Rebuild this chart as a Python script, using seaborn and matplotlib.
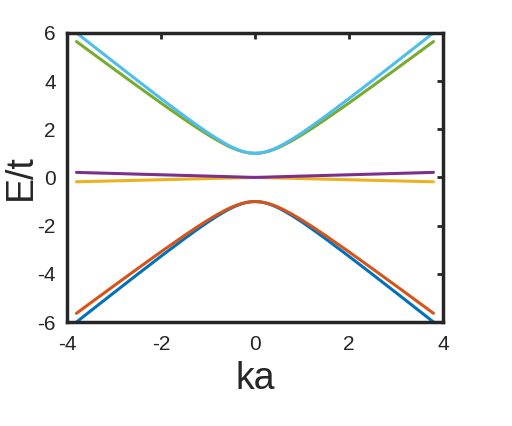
import matplotlib
matplotlib.use("Agg")
import matplotlib.pyplot as plt
import pandas as pd
import seaborn as sns

# ka sample points
ka_half = [0.0, 0.1, 0.2, 0.3, 0.4, 0.5, 0.6, 0.8, 1.0, 1.2, 1.5, 2.0, 2.5, 3.0, 3.5, 3.8]

# energies E/t for ka >= 0, each band is symmetric in ka
cyan_half = [1.000, 1.012, 1.047, 1.104, 1.178, 1.267, 1.368, 1.597, 1.850, 2.119,
             2.540, 3.271, 4.019, 4.777, 5.540, 6.000]
green_half = [1.000, 1.011, 1.042, 1.092, 1.158, 1.238, 1.329, 1.538, 1.770, 2.017,
              2.407, 3.086, 3.785, 4.493, 5.207, 5.637]
purple_half = [0.000, 0.005, 0.010, 0.016, 0.022, 0.027, 0.033, 0.044, 0.055, 0.066,
               0.082, 0.110, 0.137, 0.165, 0.192, 0.210]
yellow_half = [0.000, -0.004, -0.009, -0.014, -0.019, -0.024, -0.029, -0.038, -0.048, -0.057,
               -0.072, -0.095, -0.120, -0.143, -0.167, -0.180]
orange_half = [-1.000, -1.011, -1.042, -1.092, -1.158, -1.238, -1.329, -1.538, -1.770, -2.017,
               -2.407, -3.086, -3.785, -4.493, -5.207, -5.637]
blue_half = [-1.000, -1.012, -1.047, -1.104, -1.178, -1.267, -1.368, -1.597, -1.850, -2.119,
             -2.540, -3.271, -4.019, -4.777, -5.540, -6.000]

bands = ["b1", "b2", "b3", "b4", "b5", "b6"]
band_colors = ["#0072BD", "#D95319", "#EDB120", "#7E2F8E", "#77AC30", "#4DBEEE"]
band_values = [blue_half, orange_half, yellow_half, purple_half, green_half, cyan_half]


def full_band(half):
    """mirror half band to negative ka"""
    return half[:0:-1] + half


ka = [-k for k in ka_half[:0:-1]] + ka_half

rows = []
for name, vals in zip(bands, band_values):
    for k, e in zip(ka, full_band(vals)):
        rows.append({"ka": k, "E": e, "band": name})
df = pd.DataFrame(rows)

sns.set_style("white")
plt.rcParams["font.family"] = ["Liberation Sans", "DejaVu Sans"]
plt.rcParams["axes.unicode_minus"] = False

fig = plt.figure(figsize=(5.12, 4.26), dpi=100)
ax = fig.add_axes([0.131, 0.244, 0.734, 0.679])

sns.lineplot(data=df, x="ka", y="E", hue="band", palette=band_colors,
             estimator=None, sort=True, linewidth=2.2, legend=False, ax=ax)

ax.set_xlim(-4, 4)
ax.set_ylim(-6, 6)
ax.set_xticks([-4, -2, 0, 2, 4])
ax.set_yticks([-6, -4, -2, 0, 2, 4, 6])
ax.tick_params(direction="in", length=4, width=2, top=True, right=True,
               labelsize=15, colors="#262626")
ax.tick_params(axis="x", pad=9)
ax.tick_params(axis="y", pad=8)
for s in ax.spines.values():
    s.set_visible(True)
    s.set_linewidth(2.5)
    s.set_color("#262626")

ax.set_xlabel("ka", fontsize=27, color="#262626")
ax.set_ylabel("E/t", fontsize=27, color="#262626")
ax.xaxis.set_label_coords(0.5, -0.135)
ax.yaxis.set_label_coords(-0.075, 0.5)

fig.savefig("out.png", dpi=100)
